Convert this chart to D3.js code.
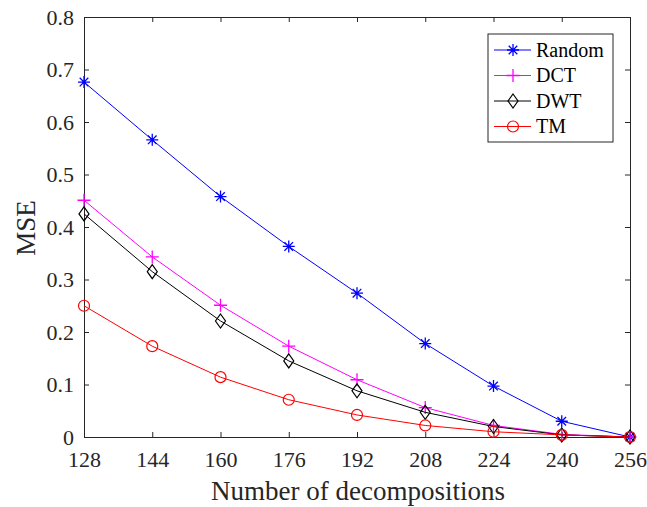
<!DOCTYPE html>
<html>
  <head>
    <meta charset="utf-8">
    <title>MSE vs number of decompositions</title>
    <script src="https://d3js.org/d3.v7.min.js"></script>
    <style>
      body { margin: 0; background: #fff; }
      svg text { font-family: "Liberation Serif", "Times New Roman", serif; }
    </style>
  </head>
  <body>
    <svg width="647" height="507"></svg>
    <script>
      var decompositions = [128, 144, 160, 176, 192, 208, 224, 240, 256];
      var randomMse = [0.676, 0.566, 0.458, 0.363, 0.274, 0.178, 0.097, 0.030, 0.000];
      var dctMse    = [0.451, 0.343, 0.251, 0.173, 0.109, 0.056, 0.022, 0.005, 0.000];
      var dwtMse    = [0.425, 0.315, 0.221, 0.145, 0.088, 0.047, 0.020, 0.004, 0.000];
      var tmMse     = [0.250, 0.173, 0.114, 0.071, 0.042, 0.022, 0.010, 0.004, 0.000];
      var yTicks = [0, 0.1, 0.2, 0.3, 0.4, 0.5, 0.6, 0.7, 0.8];

      var series = [
        { name: "Random", values: randomMse, color: "#0000ff", marker: "star" },
        { name: "DCT", values: dctMse, color: "#ff00ff", marker: "plus" },
        { name: "DWT", values: dwtMse, color: "#000000", marker: "diamond" },
        { name: "TM", values: tmMse, color: "#ff0000", marker: "circle" }
      ];

      var margin = { left: 84, right: 17, top: 17, bottom: 70 };
      var width = 647, height = 507;
      var svg = d3.select("svg");

      var x = d3.scaleLinear()
        .domain([128, 256])
        .range([margin.left, width - margin.right]);
      var y = d3.scaleLinear()
        .domain([0, 0.8])
        .range([height - margin.bottom, margin.top]);

      // axes (ticks pointing inward, box on all sides)
      var gx = svg.append("g")
        .attr("transform", "translate(0," + y(0) + ")")
        .call(d3.axisBottom(x).tickValues(decompositions).tickSizeInner(-5).tickSizeOuter(0).tickPadding(14));
      svg.append("g")
        .attr("transform", "translate(0," + y(0.8) + ")")
        .call(d3.axisTop(x).tickValues(decompositions).tickSizeInner(-5).tickSizeOuter(0).tickFormat(""));
      var gy = svg.append("g")
        .attr("transform", "translate(" + x(128) + ",0)")
        .call(d3.axisLeft(y).tickValues(yTicks).tickSizeInner(-5).tickSizeOuter(0).tickPadding(10)
          .tickFormat(function(d) { return d === 0 ? "0" : d3.format(".1f")(d); }));
      svg.append("g")
        .attr("transform", "translate(" + x(256) + ",0)")
        .call(d3.axisRight(y).tickValues(yTicks).tickSizeInner(-5).tickSizeOuter(0).tickFormat(""));

      svg.selectAll(".domain").attr("stroke", "#262626").attr("stroke-width", 1);
      svg.selectAll(".tick line").attr("stroke", "#262626");
      svg.selectAll(".tick text").attr("font-size", 22).attr("fill", "#262626");

      svg.append("text")
        .attr("x", 358)
        .attr("y", 500)
        .attr("text-anchor", "middle")
        .attr("font-size", 27)
        .attr("fill", "#262626")
        .text("Number of decompositions");
      svg.append("text")
        .attr("transform", "translate(35,228) rotate(-90)")
        .attr("text-anchor", "middle")
        .attr("font-size", 27)
        .attr("fill", "#262626")
        .text("MSE");

      function drawMarker(g, type, color) {
        if (type === "star") {
          g.append("path").attr("d", "M-6,0H6M0,-6V6M-4.3,-4.3L4.3,4.3M-4.3,4.3L4.3,-4.3")
            .attr("stroke", color).attr("stroke-width", 1.3).attr("fill", "none");
        } else if (type === "plus") {
          g.append("path").attr("d", "M-6.5,0H6.5M0,-6.5V6.5")
            .attr("stroke", color).attr("stroke-width", 1.3).attr("fill", "none");
        } else if (type === "diamond") {
          g.append("path").attr("d", "M0,-7L5,0L0,7L-5,0Z")
            .attr("stroke", color).attr("stroke-width", 1.2).attr("fill", "none");
        } else {
          g.append("circle").attr("r", 5.5)
            .attr("stroke", color).attr("stroke-width", 1.2).attr("fill", "none");
        }
      }

      var line = d3.line()
        .x(function(d, i) { return x(decompositions[i]); })
        .y(function(d) { return y(d); });

      series.forEach(function(s) {
        svg.append("path")
          .datum(s.values)
          .attr("d", line)
          .attr("fill", "none")
          .attr("stroke", s.color)
          .attr("stroke-width", 1);
        s.values.forEach(function(v, i) {
          var g = svg.append("g")
            .attr("transform", "translate(" + x(decompositions[i]) + "," + y(v) + ")");
          drawMarker(g, s.marker, s.color);
        });
      });

      // legend
      var legend = svg.append("g").attr("transform", "translate(488,34)");
      legend.append("rect")
        .attr("width", 125).attr("height", 108)
        .attr("fill", "#fff").attr("stroke", "#262626").attr("stroke-width", 1);
      series.forEach(function(s, i) {
        var row = legend.append("g").attr("transform", "translate(0," + (16 + i * 25.5) + ")");
        row.append("line").attr("x1", 6).attr("x2", 43).attr("stroke", s.color).attr("stroke-width", 1);
        drawMarker(row.append("g").attr("transform", "translate(25,0)"), s.marker, s.color);
        row.append("text")
          .attr("x", 48).attr("y", 6.5)
          .attr("font-size", 20)
          .attr("fill", "#000")
          .text(s.name);
      });
    </script>
  </body>
</html>
